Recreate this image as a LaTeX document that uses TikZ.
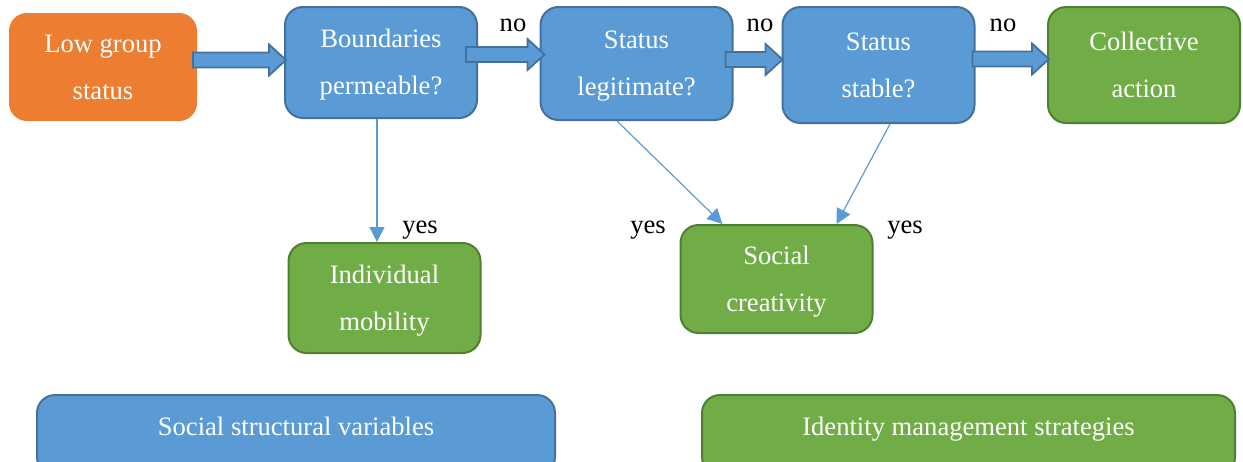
\documentclass[tikz,border=0pt]{standalone}
\usepackage{fontspec}
\setmainfont{Liberation Serif}
\usetikzlibrary{calc,arrows.meta}
\definecolor{bluefill}{HTML}{5B9BD5}
\definecolor{blueline}{HTML}{41719C}
\definecolor{orangefill}{HTML}{ED7D31}
\definecolor{greenfill}{HTML}{70AD47}
\definecolor{greenline}{HTML}{507E32}
\tikzset{
  box/.style={rounded corners=9pt, line width=1pt, text=white, align=center,
    minimum width=96pt, minimum height=56pt, inner sep=0pt,
    text height=33pt, text depth=1pt,
    font=\fontsize{13.3}{23.5}\selectfont},
  bluebox/.style={box, draw=blueline, fill=bluefill},
  greenbox/.style={box, draw=greenline, fill=greenfill},
  orangebox/.style={box, fill=orangefill},
  legendbox/.style={rounded corners=9pt, line width=1pt, inner sep=0pt, minimum height=40pt},
  legendtext/.style={text=white, anchor=base, inner sep=0pt, font=\fontsize{13.3}{16}\selectfont},
  answer/.style={anchor=base, font=\fontsize{13.3}{16}\selectfont, inner sep=0pt},
  thinarrow/.style={draw=bluefill, line width=0.6pt, -{Triangle[length=7.5pt,width=7.5pt]}},
  blockarrow/.style={draw=blueline, fill=bluefill, line width=0.9pt,
    to path={let \p1=(\tikztostart), \p2=(\tikztotarget) in
      (\x1,\y1+3.75pt) -- (\x2-8.5pt,\y1+3.75pt) -- (\x2-8.5pt,\y1+7.75pt)
      -- (\x2,\y1) -- (\x2-8.5pt,\y1-7.75pt) -- (\x2-8.5pt,\y1-3.75pt)
      -- (\x1,\y1-3.75pt) -- cycle}}
}
\begin{document}
\begin{tikzpicture}[x=0.5pt,y=-0.5pt]
    \useasboundingbox (0,0) rectangle (1243,461);
    \clip (0,0) rectangle (1243,461);

    % Top row
    \node[orangebox, minimum width=94pt, minimum height=54pt] (low) at (103,67) {Low group\\status};
    \node[bluebox, minimum height=55.5pt] (bound) at (381,62.5) {Boundaries\\permeable?};
    \node[bluebox, minimum height=56.5pt] (legit) at (636.5,63.5) {Status\\legitimate?};
    \node[bluebox, minimum height=58pt] (stable) at (878.5,65) {Status\\stable?};
    \node[greenbox, minimum height=58pt] (coll) at (1144,65) {Collective\\action};

    % Outcomes
    \node[greenbox, minimum height=55pt] (indiv) at (384.5,298) {Individual\\mobility};
    \node[greenbox, minimum height=54pt] (creat) at (776.5,279) {Social\\creativity};

    % Legend
    \node[legendbox, draw=blueline, fill=bluefill, minimum width=259pt] (structural) at (296,435) {};
    \node[legendtext] (structuraltext) at (296,435) {Social structural variables};
    \node[legendbox, draw=greenline, fill=greenfill, minimum width=266.5pt] (identity) at (968.5,435) {};
    \node[legendtext] (identitytext) at (968.5,435) {Identity management strategies};

    % Block arrows
    \draw[blockarrow] ([xshift=-2.5pt,yshift=3.5pt]low.east) to ([xshift=1pt]bound.west);
    \draw[blockarrow] ([xshift=-6pt,yshift=4pt]bound.east) to ([xshift=2.5pt]legit.west);
    \draw[blockarrow] ([xshift=-4pt,yshift=2pt]legit.east) to ([xshift=0.5pt]stable.west);
    \draw[blockarrow] ([xshift=-1.5pt,yshift=3pt]stable.east) to ([xshift=1pt]coll.west);

    % Thin arrows
    \draw[thinarrow] ([xshift=-2pt]bound.south) -- ([xshift=-2pt]bound.south |- indiv.north);
    \draw[thinarrow] ([xshift=-9.75pt]legit.south) -- ([xshift=-27pt]creat.north);
    \draw[thinarrow] ([xshift=5.75pt]stable.south) -- ([xshift=30pt]creat.north);

    % Answers
    \node[answer] (no1) at (513,31) {no};
    \node[answer] (no2) at (760,31) {no};
    \node[answer] (no3) at (1003,31) {no};
    \node[answer] (yes1) at (420,233) {yes};
    \node[answer] (yes2) at (648,233) {yes};
    \node[answer] (yes3) at (905,233) {yes};
\end{tikzpicture}
\end{document}
